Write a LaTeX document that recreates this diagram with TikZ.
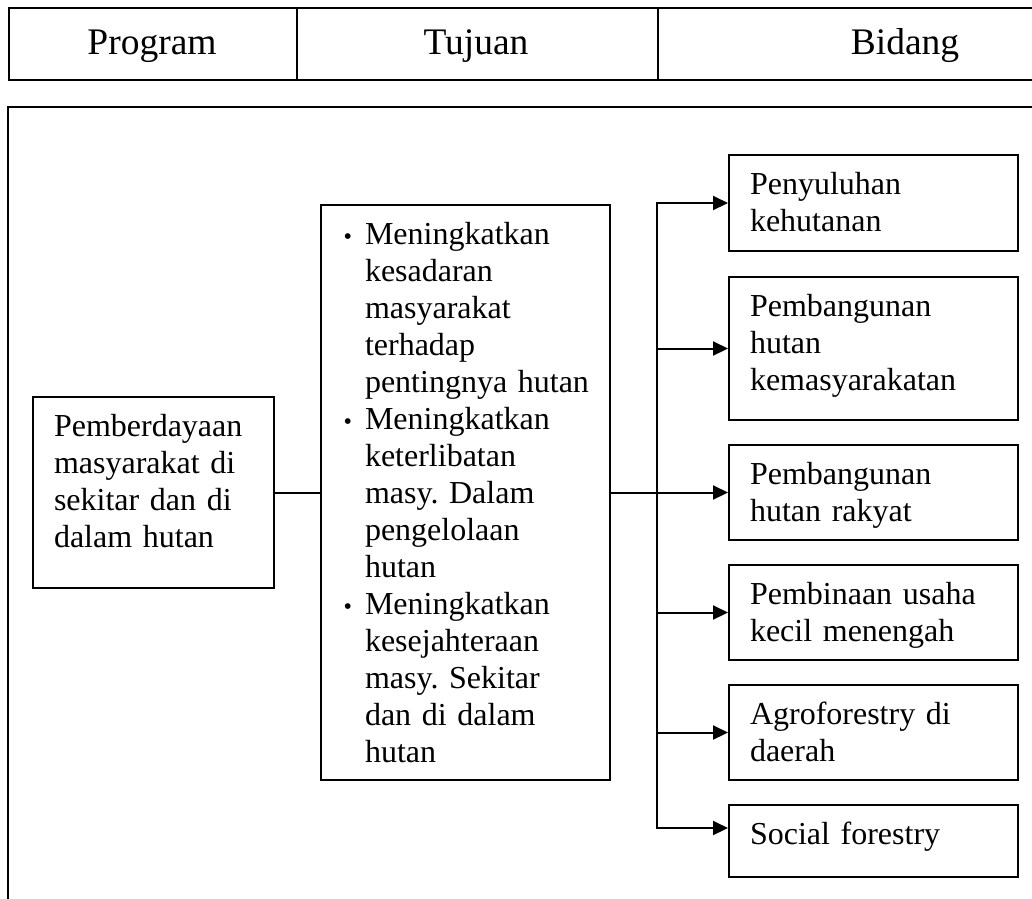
\documentclass[tikz,border=0pt]{standalone}
\usepackage{fontspec}
\setmainfont{Liberation Serif}
\usetikzlibrary{arrows.meta}
\newcommand\bodyfnt{\fontsize{32}{37}\selectfont\frenchspacing}
\newcommand\headfnt{\fontsize{37.5}{44}\selectfont}
\newcommand\bul{\leavevmode\llap{\scalebox{0.75}{•}\hspace{13pt}}}
\begin{document}
\begin{tikzpicture}[x=1pt,y=-1pt,line width=2pt,
  boxn/.style={draw,line width=2pt,rectangle,anchor=north west,inner sep=0pt,minimum width=289pt},
  cell/.style={draw,line width=2.2pt,rectangle,anchor=north west,inner sep=0pt,minimum height=72pt},
  txt/.style={anchor=north west,inner sep=0pt,align=left,text width=300pt,font=\bodyfnt},
  headtxt/.style={anchor=base,inner sep=0pt,font=\headfnt},
  arr/.style={-{Triangle[length=15pt,width=14pt]}},
  darr/.style={{Triangle[length=15pt,width=14pt]}-{Triangle[length=15pt,width=14pt]}}]
\clip (0,0) rectangle (1032,898);
% header table
\node[cell,minimum width=288pt] (h1) at (8,7) {};
\node[cell,minimum width=361pt] (h2) at (296,7) {};
\node[cell,minimum width=520pt] (h3) at (657,7) {};
\node[headtxt] (t1) at (152,54) {Program};
\node[headtxt] (t2) at (476,54) {Tujuan};
\node[headtxt] (t3) at (905,54) {Bidang};
% outer frame
\draw[line width=2.2pt] (8,107) rectangle (1100,980);
% boxes
\node[boxn,minimum width=241pt,minimum height=191pt] (prog) at (32,396) {};
\node[boxn,minimum height=575pt] (tuj) at (320,204) {};
\node[boxn,minimum height=96pt] (b1) at (728,154) {};
\node[boxn,minimum height=143pt] (b2) at (728,276) {};
\node[boxn,minimum height=95pt] (b3) at (728,444) {};
\node[boxn,minimum height=95pt] (b4) at (728,564) {};
\node[boxn,minimum height=95pt] (b5) at (728,684) {};
\node[boxn,minimum height=72pt] (b6) at (728,804) {};
% texts
\node[txt] (progt) at ([xshift=21pt,yshift=-14pt]prog.north west)
  {\strut Pemberdayaan\\masyarakat di\\sekitar dan di\\dalam hutan};
\node[txt] (tujt) at ([xshift=44pt,yshift=-14pt]tuj.north west)
  {\strut\bul Meningkatkan\\
   kesadaran\\
   masyarakat\\
   terhadap\\
   pentingnya hutan\\
   \bul Meningkatkan\\
   keterlibatan\\
   masy. Dalam\\
   pengelolaan\\
   hutan\\
   \bul Meningkatkan\\
   kesejahteraan\\
   masy. Sekitar\\
   dan di dalam\\
   hutan};
\node[txt] (b1t) at ([xshift=21pt,yshift=-14pt]b1.north west) {\strut Penyuluhan\\kehutanan};
\node[txt] (b2t) at ([xshift=21pt,yshift=-14pt]b2.north west) {\strut Pembangunan\\hutan\\kemasyarakatan};
\node[txt] (b3t) at ([xshift=21pt,yshift=-14pt]b3.north west) {\strut Pembangunan\\hutan rakyat};
\node[txt] (b4t) at ([xshift=21pt,yshift=-14pt]b4.north west) {\strut Pembinaan usaha\\kecil menengah};
\node[txt] (b5t) at ([xshift=21pt,yshift=-14pt]b5.north west) {\strut Agroforestry di\\daerah};
\node[txt] (b6t) at ([xshift=21pt,yshift=-14pt]b6.north west) {\strut Social forestry};
% connectors
\coordinate (btop) at (657,203);
\coordinate (bbot) at (657,828);
\draw (prog.east) -- (tuj.west);
\draw[arr] (tuj.east) -- (b3.west);
\draw[darr] (b1.west) -- (btop) -- (bbot) -- (bbot -| b6.west);
\draw[arr] (btop |- b2.west) -- (b2.west);
\draw[arr] (btop |- b4.west) -- (b4.west);
\draw[arr] (btop |- b5.west) -- (b5.west);
\end{tikzpicture}
\end{document}
